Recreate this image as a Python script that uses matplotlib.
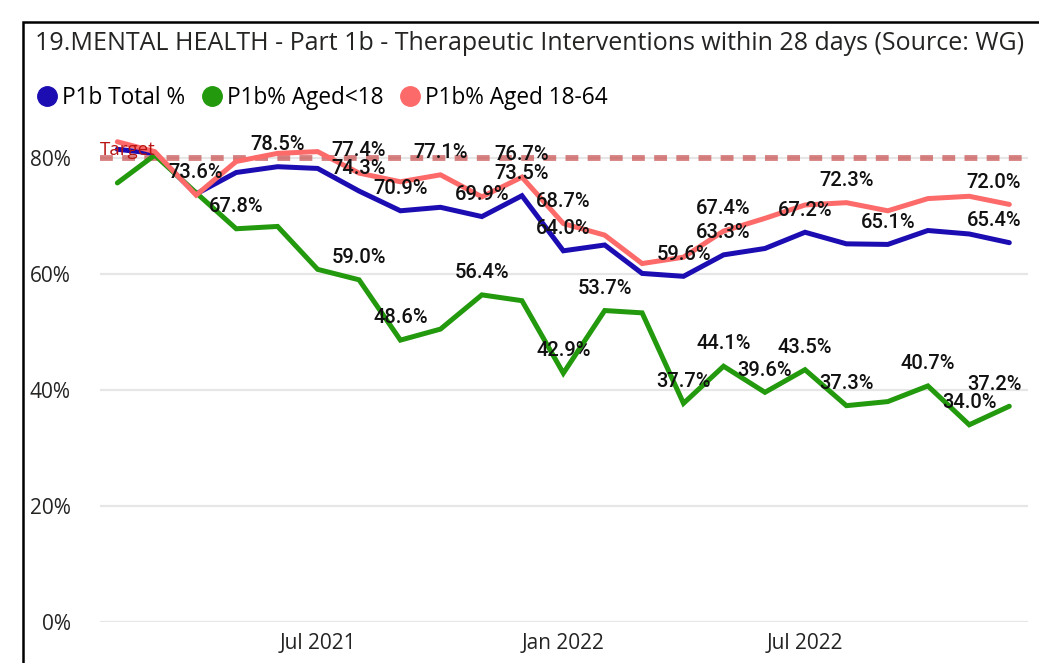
import matplotlib
matplotlib.use("Agg")
import matplotlib.pyplot as plt
import matplotlib.dates as mdates
from matplotlib.lines import Line2D
from matplotlib.patches import Rectangle
import pandas as pd

# ---------------- data ----------------
months = pd.date_range("2021-02-01", "2022-12-01", freq="MS")

total = [81.5, 80.8, 73.8, 77.5, 78.5, 78.2, 74.3, 70.9, 71.5, 69.9, 73.5, 64.0,
         65.0, 60.1, 59.6, 63.3, 64.4, 67.2, 65.2, 65.1, 67.5, 66.9, 65.4]
aged_u18 = [75.7, 80.5, 74.0, 67.8, 68.2, 60.8, 59.0, 48.6, 50.5, 56.4, 55.4, 42.9,
            53.7, 53.3, 37.7, 44.1, 39.6, 43.5, 37.3, 38.0, 40.7, 34.0, 37.2]
aged_18_64 = [82.8, 81.1, 73.6, 79.4, 80.8, 81.1, 77.4, 75.9, 77.1, 73.3, 76.7, 68.7,
              66.7, 61.8, 62.9, 67.4, 69.6, 71.9, 72.3, 70.9, 73.0, 73.4, 72.0]
target = 80.0

series_names = ["P1b Total %", "P1b% Aged<18", "P1b% Aged 18-64"]
series_values = [total, aged_u18, aged_18_64]
# indices of points whose data labels are shown
label_idx = [
    [4, 6, 7, 9, 10, 11, 14, 15, 17, 19, 22],
    [3, 6, 7, 9, 11, 12, 14, 15, 16, 17, 18, 20, 21, 22],
    [2, 6, 8, 10, 11, 15, 18, 22],
]
title = "19.MENTAL HEALTH - Part 1b - Therapeutic Interventions within 28 days (Source: WG)"
y_ticks = [0, 20, 40, 60, 80]

# ---------------- style ----------------
colors = ["#1C0DB2", "#23990D", "#FD6A6A"]
W, H = 1039, 663
fig = plt.figure(figsize=(W / 100, H / 100), dpi=100)
fig.patch.set_facecolor("white")

def fx(px):
    return px / W

def fy(py):
    return 1 - py / H

ax = fig.add_axes([fx(100), fy(622), fx(1028) - fx(100), fy(129) - fy(622)])
ax.set_ylim(0, 85)
ax.set_xlim(months[0] - pd.Timedelta(days=13), months[-1] + pd.Timedelta(days=14))
for s in ax.spines.values():
    s.set_visible(False)
ax.set_yticks(y_ticks)
ax.set_yticklabels([f"{v}%" for v in y_ticks])
ax.grid(axis="y", color="#E6E6E6", linewidth=1.6)
ax.set_axisbelow(True)
ax.tick_params(axis="both", length=0, labelsize=15, colors="#252423")
ax.tick_params(axis="y", pad=21)
ax.tick_params(axis="x", pad=8)
ax.xaxis.set_major_locator(mdates.MonthLocator(bymonth=[1, 7]))
ax.xaxis.set_major_formatter(mdates.DateFormatter("%b %Y"))
for lab in ax.get_xticklabels() + ax.get_yticklabels():
    lab.set_fontfamily("Open Sans")

# target line
ax.axhline(target, color="#C85050", alpha=0.72, linewidth=4.2,
           dashes=(2.2, 1.6), zorder=2)
ax.annotate("Target", xy=(0, target), xycoords=("axes fraction", "data"),
            xytext=(0, -1), textcoords="offset points", ha="left", va="bottom",
            fontsize=13.5, color="#B81414", family="Open Sans", zorder=5)

for vals, col in zip(series_values, colors):
    ax.plot(months, vals, color=col, linewidth=3.6, solid_joinstyle="miter",
            solid_capstyle="round", zorder=3)

for vals, idxs in zip(series_values, label_idx):
    for i in idxs:
        dx = -11 if i == len(months) - 1 else 0
        ax.annotate(f"{vals[i]:.1f}%", xy=(months[i], vals[i]),
                    xytext=(dx, 16), textcoords="offset points",
                    ha="center", va="center", fontsize=14.5, color="#111111",
                    family="Roboto", fontweight="medium", zorder=6,
                    annotation_clip=False)

# title
fig.text(fx(35), fy(44), title, ha="left", va="center", fontsize=18,
         color="#252423", family="Open Sans")

# legend
handles = [Line2D([], [], linestyle="none", marker="o", markersize=14,
                  markerfacecolor=c, markeredgecolor=c) for c in colors]
fig.legend(handles, series_names, loc="center left",
           bbox_to_anchor=(fx(39), fy(98)), ncol=3, frameon=False,
           handlelength=0.7, handletextpad=0.3, columnspacing=0.85,
           borderpad=0, borderaxespad=0,
           prop={"family": "Open Sans", "size": 16.3})

# outer frame
fig.add_artist(Rectangle((fx(23), fy(H + 10)), fx(W + 20) - fx(23),
                         fy(22) - fy(H + 10), transform=fig.transFigure,
                         fill=False, edgecolor="black", linewidth=1.8,
                         clip_on=False))

fig.savefig("out.png", dpi=100)
